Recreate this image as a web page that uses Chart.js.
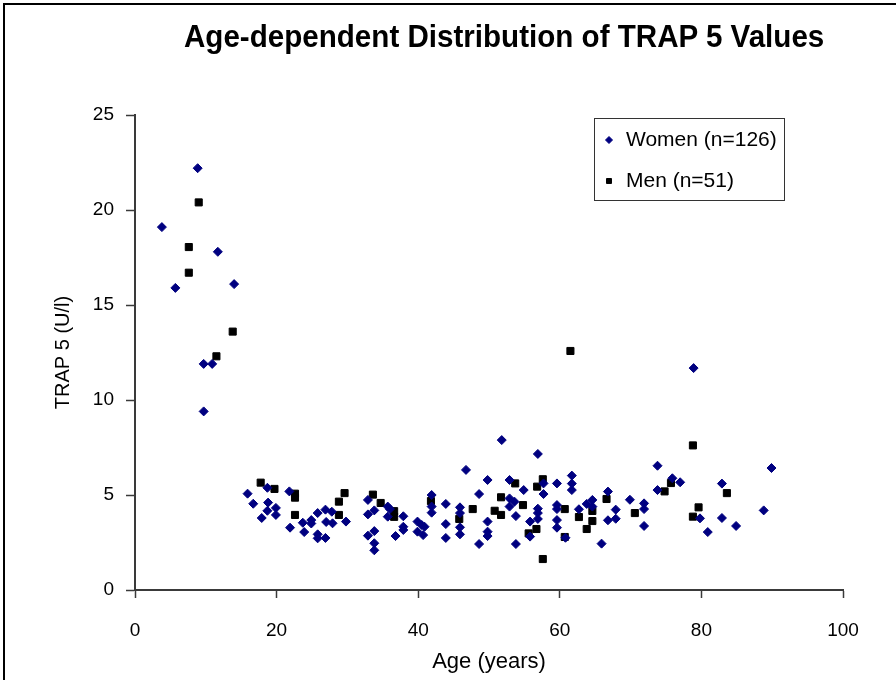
<!DOCTYPE html>
<html>
<head>
<meta charset="utf-8">
<title>Age-dependent Distribution of TRAP 5 Values</title>
<script src="https://cdn.jsdelivr.net/npm/chart.js@4.4.1/dist/chart.umd.min.js"></script>
<style>
  html, body { margin: 0; padding: 0; background: #fff; }
  #wrap { position: relative; width: 896px; height: 680px; overflow: hidden; }
  #frame { position: absolute; left: 3px; top: 3px; width: 1000px; height: 1000px;
           border-left: 2px solid #000; border-top: 2px solid #000; pointer-events: none; }
  #chartTitle { position: absolute; left: 184px; top: 21px; margin: 0; white-space: nowrap;
                font: bold 31px/31px 'Liberation Sans', Arial, sans-serif; color: #000;
                transform: scaleX(0.954); transform-origin: left top; }
</style>
</head>
<body>
<div id="wrap">
  <canvas id="trapChart" width="896" height="680"></canvas>
  <h1 id="chartTitle">Age-dependent Distribution of TRAP 5 Values</h1>
  <div id="frame"></div>
</div>
<script>
/* Age-dependent distribution of TRAP 5 — scatter, women vs men */
const xTitle = 'Age (years)';
const yTitle = 'TRAP 5 (U/l)';
const seriesLabels = ['Women (n=126)', 'Men (n=51)'];

const womenAge = [
  3.8, 5.7, 8.85, 9.7, 9.7, 10.9, 11.7, 14.0,
  15.9, 16.7, 17.9, 18.7, 18.8, 18.7, 19.9, 19.9, 21.8, 21.9, 23.7, 23.9, 24.9, 24.9,
  25.8, 25.8, 25.8, 26.9, 27.0, 26.9, 27.8, 27.9, 29.8, 32.9, 32.9, 33.8, 32.9, 33.8,
  33.8, 33.8, 35.7, 35.7, 36.8,
  36.0, 37.9, 37.9, 37.9, 39.9, 40.5, 40.9, 39.9, 40.7, 41.9, 41.9, 41.9, 43.9, 43.9,
  43.9, 45.9, 45.9, 45.9, 45.9, 46.75, 48.6, 48.6, 49.8, 49.8, 49.8, 49.8, 51.8, 52.9,
  52.9, 52.9, 53.6, 53.8, 53.8, 54.9, 55.8, 55.8, 56.9, 56.9, 56.9, 56.9, 57.7, 57.7,
  59.6, 59.6, 59.6, 59.6, 59.6,
  60.8, 61.7, 61.7, 61.7, 62.7, 63.8, 64.6, 64.6, 65.9, 66.8, 67.9, 67.9, 66.8, 69.9,
  71.9, 71.9, 71.9, 73.8, 73.8, 75.9, 77.0, 78.9, 79.8,
  89.9, 82.9, 82.9, 84.9, 88.8, 80.9
];
const womenTrap = [
  19.1, 15.9, 22.2, 11.9, 9.4, 11.9, 17.8, 16.1,
  5.07, 4.54, 3.79, 5.38, 4.6, 4.17, 4.32, 3.95, 5.19, 3.28, 3.54, 3.05, 3.68, 3.5,
  4.05, 2.93, 2.72, 4.23, 3.58, 2.74, 4.12, 3.51, 3.6, 4.74, 3.98, 4.19, 2.86, 3.1,
  2.46, 2.09, 4.39, 3.86, 2.84,
  4.26, 3.88, 3.33, 3.16, 3.6, 3.42, 3.33, 3.07, 2.89, 5.0, 4.39, 4.07, 4.53, 3.47,
  2.74, 4.35, 4.05, 3.3, 2.93, 6.32, 5.05, 2.42, 5.79, 3.6, 3.07, 2.84, 7.89, 5.79,
  4.82, 4.39, 4.65, 3.89, 2.42, 5.26, 3.6, 2.81, 7.16, 4.28, 4.05, 3.74, 5.05, 5.61,
  5.61, 4.47, 4.26, 3.68, 3.28,
  2.75, 6.02, 5.6, 5.26, 4.25, 4.53, 4.74, 4.39, 2.44, 5.18, 4.23, 3.75, 3.67, 4.75,
  4.56, 4.26, 3.37, 6.54, 5.26, 5.88, 5.67, 11.68, 3.77,
  6.42, 5.6, 3.79, 3.37, 4.19, 3.05
];

const menAge = [
  7.6, 7.6, 9.0, 11.5, 13.8,
  17.75, 19.7, 22.6, 22.6, 22.6, 28.8, 28.8, 29.6, 33.6, 34.7, 36.6, 36.6,
  41.8, 45.8, 47.7, 50.8, 51.7, 51.7, 53.7, 54.8, 55.6, 56.8, 56.7, 57.6, 57.6,
  61.5, 60.7, 62.7, 63.8, 60.7, 64.6, 64.6, 66.6, 70.6, 74.8, 75.7, 78.8, 78.8, 79.6,
  83.6
];
const menTrap = [
  18.05, 16.7, 20.4, 12.3, 13.6,
  5.65, 5.32, 5.07, 4.86, 3.95, 4.65, 3.95, 5.1, 5.02, 4.58, 4.15, 3.85,
  4.68, 3.74, 4.26, 4.17, 4.88, 3.95, 5.61, 4.47, 2.98, 5.44, 3.21, 5.83, 1.63,
  12.58, 4.26, 3.84, 3.21, 2.79, 4.16, 3.63, 4.79, 4.05, 5.19, 5.63, 7.61, 3.86, 4.35,
  5.1
];

const xTicks = [0, 20, 40, 60, 80, 100];
const yTicks = [0, 5, 10, 15, 20, 25];

const navy = '#000080';
const axisColor = '#3a3a3a';
const sans = "'Liberation Sans', Arial, sans-serif";

const toPoints = (xs, ys) => xs.map((x, i) => ({ x: x, y: ys[i] }));

// legend drawn as a framed box inside the plot area, like the original
const boxLegend = {
  id: 'boxLegend',
  afterDatasetsDraw(chart) {
    const { ctx, chartArea } = chart;
    const left = chartArea.right - 249;
    const top = chartArea.top + 3;
    const w = 190, h = 82;
    ctx.save();
    ctx.fillStyle = '#fff';
    ctx.fillRect(left, top, w, h);
    ctx.strokeStyle = '#333';
    ctx.lineWidth = 1;
    ctx.strokeRect(left + 0.5, top + 0.5, w, h);
    ctx.font = '21px ' + sans;
    ctx.textBaseline = 'middle';
    chart.data.datasets.forEach((ds, i) => {
      const y = top + 22 + i * 41;
      ctx.fillStyle = ds.backgroundColor;
      ctx.strokeStyle = ds.borderColor;
      Chart.helpers.drawPoint(ctx, {
        pointStyle: ds.pointStyle,
        radius: 3.5,
        borderWidth: 1,
        rotation: 0
      }, left + 15, y);
      ctx.fillStyle = '#000';
      ctx.fillText(ds.label, left + 32, y);
    });
    ctx.restore();
  }
};

new Chart(document.getElementById('trapChart'), {
  type: 'scatter',
  data: {
    datasets: [
      {
        label: seriesLabels[0],
        data: toPoints(womenAge, womenTrap),
        pointStyle: 'rectRot',
        pointRadius: 4.5,
        borderWidth: 1,
        backgroundColor: navy,
        borderColor: navy
      },
      {
        label: seriesLabels[1],
        data: toPoints(menAge, menTrap),
        pointStyle: 'rect',
        pointRadius: 5,
        borderWidth: 1,
        backgroundColor: '#000',
        borderColor: '#000'
      }
    ]
  },
  options: {
    responsive: false,
    animation: false,
    devicePixelRatio: 1,
    layout: { padding: { left: 0, right: 53, top: 115, bottom: 0 } },
    plugins: {
      legend: { display: false },
      tooltip: { enabled: false },
      title: { display: false }
    },
    scales: {
      x: {
        type: 'linear',
        min: 0,
        max: 100,
        afterFit: (s) => { s.height = 90; },
        afterBuildTicks: (s) => { s.ticks = xTicks.map(v => ({ value: v })); },
        grid: { drawOnChartArea: false, tickLength: 8, tickColor: axisColor, tickWidth: 1.5 },
        border: { color: axisColor, width: 2 },
        ticks: { color: '#000', padding: 21, font: { family: sans, size: 19 } },
        title: { display: true, text: xTitle, color: '#000', font: { family: sans, size: 22 }, padding: { top: 0, bottom: 5 } }
      },
      y: {
        type: 'linear',
        min: 0,
        max: 25,
        afterFit: (s) => { s.width = 135; },
        afterBuildTicks: (s) => { s.ticks = yTicks.map(v => ({ value: v })); },
        grid: { drawOnChartArea: false, tickLength: 9, tickColor: axisColor, tickWidth: 1.5 },
        border: { color: axisColor, width: 2 },
        ticks: { color: '#000', padding: 12, font: { family: sans, size: 19 } },
        title: { display: true, text: yTitle, color: '#000', font: { family: sans, size: 20 }, padding: { top: 51, bottom: 0 } }
      }
    }
  },
  plugins: [boxLegend]
});
</script>
</body>
</html>
